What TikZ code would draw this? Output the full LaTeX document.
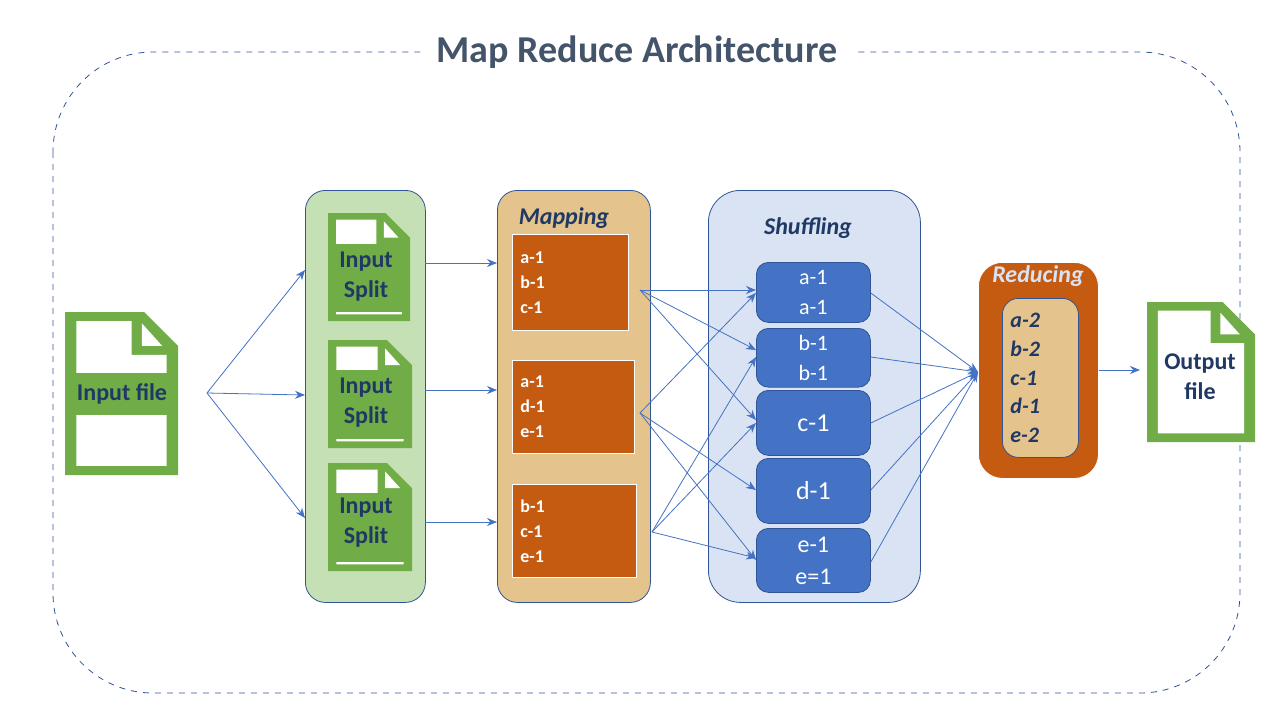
\documentclass[tikz,border=0pt]{standalone}
\usepackage{fontspec}
\setmainfont{Carlito}
\usetikzlibrary{positioning, arrows.meta}
\definecolor{docgreen}{HTML}{70AD47}
\definecolor{splitbg}{HTML}{C5E0B4}
\definecolor{mapbg}{HTML}{E4C48C}
\definecolor{shufbg}{HTML}{DAE3F3}
\definecolor{rust}{HTML}{C55A11}
\definecolor{keyblue}{HTML}{4472C4}
\definecolor{navy}{HTML}{203864}
\definecolor{frameblue}{HTML}{2F5597}
\definecolor{slate}{HTML}{44546A}

\tikzset{
  panel/.style = {draw=frameblue, rounded corners=10pt, anchor=north west, inner sep=0pt},
  mapbox/.style = {draw=white, fill=rust, anchor=north west, text=white, font=\bfseries\fontsize{9}{12.5}\selectfont, align=left, inner sep=4pt, text width=#1},
  keybox/.style = {draw=frameblue, fill=keyblue, rounded corners=6pt, anchor=north west, minimum width=57pt, text=white, font=\fontsize{11}{15}\selectfont, align=center},
  flow/.style = {draw=keyblue, -{Stealth[length=5pt, width=4pt]}},
  heading/.style = {font=\bfseries\itshape\fontsize{12}{14}\selectfont, text=navy},
  doclabel/.style = {text=navy, font=\bfseries\fontsize{12}{15}\selectfont, align=center}
}

% document icon: x, y, width, height (px), band top, band bottom
\newcommand{\docicon}[6]{%
  \fill[docgreen] (#1,#2) -- ++({#3-0.3*#3},0) -- (#1+#3,#2+0.3*#3) -- (#1+#3,#2+#4) -- (#1,#2+#4) -- cycle;
  \fill[white] (#1+0.1*#3,#2+0.08*#3) -- ++({0.49*#3},0) -- ++(0,{0.3*#3}) -- (#1+0.9*#3,#2+0.38*#3) -- (#1+0.9*#3,#2+#4-0.08*#3) -- (#1+0.1*#3,#2+#4-0.08*#3) -- cycle;
  \fill[white] (#1+0.68*#3,#2+0.1*#3) -- (#1+0.86*#3,#2+0.3*#3) -- (#1+0.68*#3,#2+0.3*#3) -- cycle;
  \fill[docgreen] (#1,#5) rectangle (#1+#3,#6);
}

\begin{document}
\begin{tikzpicture}[x=0.5pt, y=-0.5pt]
\useasboundingbox (0,0) rectangle (1280,720);

% outer frame and title
\draw[frameblue, dashed, rounded corners=50pt] (53,52) rectangle (1240,693);
\node[fill=white, text=slate, font=\bfseries\fontsize{19}{22}\selectfont, inner xsep=8pt] (title) at (637,52) {Map Reduce Architecture};

% input file
\docicon{65}{312}{113}{163}{373}{415}
\node[doclabel] (infile) at (122,394) {Input file};
\coordinate (hub) at (207,393);

% splitting
\node[panel, fill=splitbg, minimum width=60pt, minimum height=206pt] (splitpanel) at (305,190) {};
\docicon{328}{213}{82}{108}{244}{312}
\docicon{328}{340}{84}{108}{370}{439}
\docicon{328}{463}{84}{108}{493}{562}
\node[doclabel] (split1) at (366,277) {Input\\Split};
\node[doclabel] (split2) at (366,403) {Input\\Split};
\node[doclabel] (split3) at (366,523) {Input\\Split};

\draw[flow] (hub) -- (305,270);
\draw[flow] (hub) -- (305,395);
\draw[flow] (hub) -- (305,518);

% mapping
\node[panel, fill=mapbg, minimum width=76.5pt, minimum height=206pt] (mappanel) at (497,190) {};
\node[heading] (maptitle) at (564,218) {Mapping};
\node[mapbox=50pt, minimum height=48pt] (map1) at (512,234) {a-1\\b-1\\c-1};
\node[mapbox=53pt, minimum height=46.5pt] (map2) at (512,360) {a-1\\d-1\\e-1};
\node[mapbox=54pt, minimum height=46.5pt] (map3) at (512,484) {b-1\\c-1\\e-1};

\draw[flow] (425,263) -- (497,263);
\draw[flow] (425,390) -- (497,390);
\draw[flow] (425,522) -- (497,522);

% shuffling
\node[panel, fill=shufbg, rounded corners=16pt, minimum width=106pt, minimum height=206pt] (shufpanel) at (708,190) {};
\node[heading] (shuftitle) at (808,228) {Shuffling};
\node[keybox, minimum height=30pt] (ka) at (756,262) {a-1\\a-1};
\node[keybox, minimum height=28pt] (kb) at (756,328) {b-1\\b-1};
\node[keybox, minimum height=32.5pt, font=\fontsize{13}{15}\selectfont] (kc) at (756,390) {c-1};
\node[keybox, minimum height=32.5pt, font=\fontsize{13}{15}\selectfont] (kd) at (756,458) {d-1};
\node[keybox, minimum height=32pt, font=\fontsize{12}{16}\selectfont] (ke) at (756,528) {e-1\\e=1};

\coordinate (m1) at (640,290);
\coordinate (m2) at (640,413);
\coordinate (m3) at (652,532);
\draw[flow] (m1) -- (ka.west |- 0,290);
\draw[flow] (m1) -- (kb.west |- 0,350);
\draw[flow] (m1) -- (kc.west |- 0,420);
\draw[flow] (m2) -- (ka.west |- 0,293);
\draw[flow] (m2) -- (kd.west |- 0,490);
\draw[flow] (m2) -- (ke.west |- 0,560);
\draw[flow] (m3) -- (kb.west |- 0,357);
\draw[flow] (m3) -- (kc.west |- 0,423);
\draw[flow] (m3) -- (ke.west |- 0,558);

% reducing
\node[panel, draw=white, fill=rust, rounded corners=12pt, minimum width=60pt, minimum height=108pt] (redpanel) at (978,262) {};
\node[font=\bfseries\itshape\fontsize{12}{14}\selectfont, text=shufbg] (redtitle) at (1038,276) {Reducing};
\node[panel, fill=mapbg, rounded corners=8pt, minimum width=36pt, minimum height=79.5pt, text=navy, font=\bfseries\itshape\fontsize{11}{14.3}\selectfont, align=left, text width=30pt, inner xsep=4pt] (redbox) at (1002,298) {a-2\\b-2\\c-1\\d-1\\e-2};
\coordinate (rin) at (978,372);
\foreach \k/\y in {ka/293, kb/357, kc/423, kd/490, ke/562}
  \draw[flow] (\k.east |- 0,\y) -- (rin);

% output
\docicon{1147}{302}{108}{140}{434}{442}
\node[doclabel] (outfile) at (1200,377) {Output\\file};
\draw[flow] (redpanel.east |- 0,370) -- (1140,370);
\end{tikzpicture}
\end{document}
